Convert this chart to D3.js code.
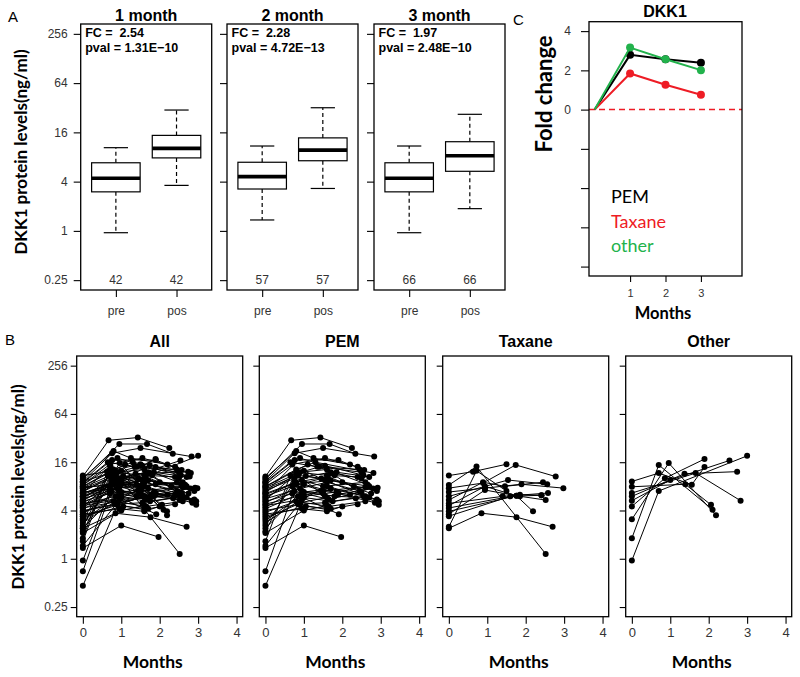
<!DOCTYPE html>
<html><head><meta charset="utf-8">
<script src="https://cdn.jsdelivr.net/npm/d3@7"></script>
<style>
body{margin:0;background:#fff;}
svg{display:block;}
text{font-family:"Liberation Sans",Arial,sans-serif;}
.cal{font-family:Lato,"Open Sans",sans-serif;}
</style></head>
<body>
<svg id="chart" width="800" height="677"></svg>
<script>
// ---------- DATA ----------
const boxPanels = ["1 month","2 month","3 month"];
const fcValues = ["2.54","2.28","1.97"];
const pvalValues = ["1.31E\u221210","4.72E\u221213","2.48E\u221210"];
const nCounts = [42,57,66];
const groupLabels = ["pre","pos"];
// [min, q1, median, q3, max]
const preStats = [[0.95,3.0,4.4,6.8,10.4],[1.36,3.25,4.6,6.9,10.9],[0.95,3.0,4.4,6.8,10.9]];
const posStats = [[3.6,7.8,10.2,14.7,30],[3.3,7.2,9.7,13.7,32],[1.87,5.35,8.3,12.3,26.6]];
const logTicks = [0.25,1,4,16,64,256];
const logTickLabels = ["0.25","1","4","16","64","256"];

// Panel B: patient trajectories [month, ng/ml]
const pemPatients = [
 [[0,10.6],[0.67,30],[1.43,32.5],[2.25,24]],
 [[0,9.8],[0.95,27],[1.67,27],[2.34,20.4]],
 [[0,9.2],[0.76,20.7],[1.5,24],[2.83,18.8]],
 [[0,8.8],[0.76,17.1],[1.9,17],[2.57,12.8]],
 [[0,8.4],[0.7,15],[1.55,18],[2.4,14]],
 [[0,8.0],[0.8,13],[1.3,16],[2.81,11.7]],
 [[0,7.7],[0.9,12],[1.6,13],[2.66,8.4]],
 [[0,7.4],[0.85,11],[1.45,10],[2.92,7.7]],
 [[0,7.1],[0.75,10],[1.7,12],[2.5,10]],
 [[0,6.8],[1.0,12.5],[1.55,9.5],[2.95,5.2]],
 [[0,6.5],[0.8,9],[1.8,11],[2.95,4.7]],
 [[0,6.3],[0.95,9.5],[1.5,8],[2.6,9]],
 [[0,6.0],[0.7,8],[1.62,10.5],[2.3,8]],
 [[0,5.8],[1.05,10.8],[2.0,9],[2.75,6.5]],
 [[0,5.6],[0.9,7.5],[1.6,9],[2.45,7]],
 [[0,5.4],[0.8,11.5],[1.55,6],[2.8,7.5]],
 [[0,5.2],[0.7,6.5],[1.7,7.5],[2.6,6]],
 [[0,5.0],[1.0,8.5],[1.9,6.5],[2.85,5]],
 [[0,4.8],[0.85,6],[1.45,7],[2.2,6.3]],
 [[0,4.6],[0.95,5.5],[1.6,8],[2.9,5.5]],
 [[0,4.4],[0.75,7],[1.65,5.5],[2.5,6.8]],
 [[0,4.2],[1.0,6.8],[1.8,6],[2.7,5.8]],
 [[0,4.0],[0.9,4.8],[1.55,5],[2.35,5.7]],
 [[0,3.8],[0.8,5.2],[1.65,4.5],[2.6,5.2]],
 [[0,3.6],[0.95,4.2],[1.6,3.9],[2.0,4.5]],
 [[0,3.4],[1.05,4.5],[1.7,4.2],[2.4,4.8]],
 [[0,3.2],[0.85,4.8],[1.6,4.1]],
 [[0,3.0],[0.9,6],[1.91,3.6]],
 [[0,2.8],[1.0,5.8],[1.75,5.2],[2.55,6]],
 [[0,2.6],[0.75,9],[1.5,7],[2.7,8]],
 [[0,2.4],[0.95,7],[1.5,6.5]],
 [[0,2.2],[0.8,12],[1.6,11],[2.4,10.5]],
 [[0,2.1],[1.0,4],[1.6,4.6]],
 [[0,1.65],[0.65,11],[1.4,14],[2.5,12]],
 [[0,1.36],[1.0,2.6],[1.97,1.87]],
 [[0,1.45],[0.9,5],[1.6,5.8]],
 [[0,0.70],[0.8,8.5],[1.7,9.5],[2.9,7]],
 [[0,0.46],[1.0,6.0],[1.85,6.8],[2.6,7.8]],
 [[0,10.2],[0.8,22],[1.25,18],[2.2,15]],
 [[0,9.0],[0.65,16],[1.35,14],[2.45,13]],
 [[0,7.9],[1.1,15],[1.85,12],[2.7,10.5]],
 [[0,6.6],[0.9,18],[1.55,14.5],[2.55,11]]
];
const taxanePatients = [
 [[0,10.9],[0.63,12.2],[1.50,15.1]],
 [[0,8.3],[0.72,14.1],[2.52,1.15]],
 [[0,7.6],[0.89,8.8],[1.74,14.8],[2.78,10.6]],
 [[0,6.8],[0.94,7.6],[1.89,8.5],[2.98,7.6]],
 [[0,6.0],[1.54,9.6],[2.56,8.5]],
 [[0,5.4],[0.89,9.0],[1.46,8.0],[2.45,9.0]],
 [[0,4.9],[1.40,6.0],[2.58,6.6]],
 [[0,4.6],[0.94,8.0],[1.76,6.1],[2.19,3.9]],
 [[0,4.3],[1.85,6.3],[2.41,6.2]],
 [[0,3.9],[1.76,6.1],[2.52,5.4]],
 [[0,3.6],[0.94,7.2],[1.85,6.0]],
 [[0,3.4],[1.60,6.0],[2.41,6.2]],
 [[0,2.5],[0.72,12.5],[1.50,7.0]],
 [[0,2.4],[0.85,3.7],[1.76,3.3],[2.70,2.5]]
];
const otherPatients = [
 [[0,0.95],[0.70,7.0],[3.0,19.2]],
 [[0,1.8],[0.70,14.8],[2.10,4.1]],
 [[0,3.1],[0.96,15.6],[2.19,3.5]],
 [[0,4.5],[0.86,10.1],[1.89,17.5]],
 [[0,5.3],[1.0,9.6],[2.54,16.8]],
 [[0,6.0],[1.37,11.5],[2.74,12.2]],
 [[0,6.6],[1.66,11.7],[2.83,5.3]],
 [[0,7.9],[1.39,8.5],[2.06,4.7]],
 [[0,9.2],[0.70,11.7],[1.56,8.4],[1.89,13.9]]
];
const bPanels = ["All","PEM","Taxane","Other"];
const monthTicks = [0,1,2,3,4];

// Panel C: fold change
const fcMonths = [0,1,2,3];
const pemFC = [0,2.79,2.57,2.39];
const taxaneFC = [0,1.84,1.27,0.76];
const otherFC = [0,3.16,2.57,2.01];
const fcSeries = [
  {name:"PEM", values:pemFC, color:"#000000"},
  {name:"Taxane", values:taxaneFC, color:"#ee1c25"},
  {name:"other", values:otherFC, color:"#22b24c"}
];
const fcTicks = [4,2,0,-2,-4,-6,-8];
const fcMonthTicks = [1,2,3];

// ---------- LAYOUT ----------
const svg = d3.select("#chart");
const logDomain = [Math.pow(2,-2.4), Math.pow(2,8.4)];
const tickFont = 12, tickColor = "#333";

function styleAxis(g){
  g.select(".domain").remove();
  g.selectAll(".tick line").attr("stroke","#000").attr("stroke-width",1.1);
  g.selectAll(".tick text").attr("fill",tickColor).style("font-size",tickFont+"px")
   .style("font-family",'"Liberation Sans",Arial,sans-serif');
}

// ---------- PANEL A ----------
const aTop = 24, aBot = 290, aW = 131, aLefts = [80.7,227,374];
boxPanels.forEach((title,i)=>{
  const left = aLefts[i];
  const x = d3.scaleLinear().domain([0.42,2.58]).range([left,left+aW]);
  const y = d3.scaleLog().base(2).domain(logDomain).range([aBot,aTop]);
  const g = svg.append("g");
  const ya = g.append("g").attr("transform",`translate(${left},0)`)
    .call(d3.axisLeft(y).tickValues(logTicks).tickSize(7).tickPadding(6)
      .tickFormat((d,k)=> i===0 ? logTickLabels[k] : ""));
  styleAxis(ya);
  const xa = g.append("g").attr("transform",`translate(0,${aBot})`)
    .call(d3.axisBottom(x).tickValues([1,2]).tickSize(7).tickPadding(9)
      .tickFormat((d,k)=>groupLabels[k]));
  styleAxis(xa);

  [preStats[i], posStats[i]].forEach((s,k)=>{
    const c = k+1;
    const [mn,q1,md,q3,mx] = s;
    g.append("line").attr("x1",x(c)).attr("x2",x(c)).attr("y1",y(q3)).attr("y2",y(mx))
      .attr("stroke","#000").attr("stroke-width",1.2).attr("stroke-dasharray","4,3");
    g.append("line").attr("x1",x(c)).attr("x2",x(c)).attr("y1",y(q1)).attr("y2",y(mn))
      .attr("stroke","#000").attr("stroke-width",1.2).attr("stroke-dasharray","4,3");
    [mn,mx].forEach(v=>g.append("line").attr("x1",x(c-0.2)).attr("x2",x(c+0.2))
      .attr("y1",y(v)).attr("y2",y(v)).attr("stroke","#000").attr("stroke-width",1.2));
    g.append("rect").attr("x",x(c-0.4)).attr("width",x(c+0.4)-x(c-0.4))
      .attr("y",y(q3)).attr("height",y(q1)-y(q3))
      .attr("fill","#fff").attr("stroke","#000").attr("stroke-width",1.2);
    g.append("line").attr("x1",x(c-0.4)).attr("x2",x(c+0.4)).attr("y1",y(md)).attr("y2",y(md))
      .attr("stroke","#000").attr("stroke-width",3.6);
    g.append("text").attr("x",x(c)).attr("y",y(0.25)).attr("dy","0.32em")
      .attr("text-anchor","middle").attr("fill",tickColor).style("font-size","12px")
      .text(nCounts[i]);
  });
  g.append("rect").attr("x",left).attr("y",aTop).attr("width",aW).attr("height",aBot-aTop)
    .attr("fill","none").attr("stroke","#000").attr("stroke-width",1.3);
  g.append("text").attr("x",left+aW/2).attr("y",21).attr("text-anchor","middle")
    .style("font-size","16px").style("font-weight","bold").text(title);
  g.append("text").attr("x",left+4.5).attr("y",37).style("font-size","12.5px")
    .style("font-weight","bold").style("white-space","pre").text("FC =  "+fcValues[i]);
  g.append("text").attr("x",left+4.5).attr("y",52).style("font-size","12.5px")
    .style("font-weight","bold").style("white-space","pre").text("pval = "+pvalValues[i]);
});
svg.append("text").attr("class","cal").attr("transform","translate(20,152) rotate(-90)")
  .attr("text-anchor","middle").attr("dominant-baseline","central")
  .style("font-size","17px").style("font-weight","bold").text("DKK1 protein levels(ng/ml)");
svg.append("text").attr("x",8).attr("y",22).style("font-size","15px").text("A");

// ---------- PANEL B ----------
const bTop = 356, bBot = 616.7, bW = 166, bLefts = [76.7,259.3,442.7,625.7];
const bData = [pemPatients.concat(taxanePatients, otherPatients), pemPatients, taxanePatients, otherPatients];
bPanels.forEach((title,i)=>{
  const left = bLefts[i];
  const x = d3.scaleLinear().domain([-0.16,4.16]).range([left,left+bW]);
  const y = d3.scaleLog().base(2).domain(logDomain).range([bBot,bTop]);
  const g = svg.append("g");
  const ya = g.append("g").attr("transform",`translate(${left},0)`)
    .call(d3.axisLeft(y).tickValues(logTicks).tickSize(6).tickPadding(3)
      .tickFormat((d,k)=> i===0 ? logTickLabels[k] : ""));
  styleAxis(ya);
  const xa = g.append("g").attr("transform",`translate(0,${bBot})`)
    .call(d3.axisBottom(x).tickValues(monthTicks).tickSize(7).tickPadding(4).tickFormat(d3.format("d")));
  styleAxis(xa);
  xa.selectAll(".tick text").style("font-size","13px");
  const line = d3.line().x(d=>x(d[0])).y(d=>y(d[1]));
  const pg = g.append("g");
  bData[i].forEach(p=>{
    pg.append("path").attr("d",line(p)).attr("fill","none").attr("stroke","#000").attr("stroke-width",1);
  });
  bData[i].forEach(p=>{
    pg.selectAll(null).data(p).enter().append("circle")
      .attr("cx",d=>x(d[0])).attr("cy",d=>y(d[1])).attr("r",3).attr("fill","#000");
  });
  g.append("rect").attr("x",left).attr("y",bTop).attr("width",bW).attr("height",bBot-bTop)
    .attr("fill","none").attr("stroke","#000").attr("stroke-width",1.3);
  g.append("text").attr("x",left+bW/2).attr("y",347).attr("text-anchor","middle")
    .style("font-size","16px").style("font-weight","bold").text(title);
  g.append("text").attr("class","cal").attr("x",left+bW/2-7).attr("y",668).attr("text-anchor","middle")
    .style("font-size","17.5px").style("font-weight","bold").text("Months");
});
svg.append("text").attr("class","cal").attr("transform","translate(17,487) rotate(-90)")
  .attr("text-anchor","middle").attr("dominant-baseline","central")
  .style("font-size","17px").style("font-weight","bold").text("DKK1 protein levels(ng/ml)");
svg.append("text").attr("x",5).attr("y",345).style("font-size","15px").text("B");

// ---------- PANEL C ----------
const cLeft = 589, cRight = 742, cTop = 21.7, cBot = 276;
const cx = d3.scaleLinear().domain([-0.16,4.16]).range([cLeft,cRight]);
const cy = d3.scaleLinear().domain([-8.48,4.48]).range([cBot,cTop]);
const cg = svg.append("g");
const cya = cg.append("g").attr("transform",`translate(${cLeft},0)`)
  .call(d3.axisLeft(cy).tickValues(fcTicks).tickSize(8).tickPadding(10)
    .tickFormat(d=> d>=0 ? d3.format("d")(d) : ""));
styleAxis(cya);
const cxa = cg.append("g").attr("transform",`translate(0,${cBot})`)
  .call(d3.axisBottom(cx).tickValues(fcMonthTicks).tickSize(6).tickPadding(7).tickFormat(d3.format("d")));
styleAxis(cxa);
cxa.selectAll(".tick text").style("font-size","11px");
cg.append("line").attr("x1",cLeft).attr("x2",cRight).attr("y1",cy(0)).attr("y2",cy(0))
  .attr("stroke","#ee1c25").attr("stroke-width",1.5).attr("stroke-dasharray","6,4");
const cline = d3.line().x((d,k)=>cx(fcMonths[k])).y(d=>cy(d));
fcSeries.forEach(s=>{
  cg.append("path").attr("d",cline(s.values)).attr("fill","none")
    .attr("stroke",s.color).attr("stroke-width",2);
  cg.selectAll(null).data(s.values.slice(1)).enter().append("circle")
    .attr("cx",(d,k)=>cx(fcMonths[k+1])).attr("cy",d=>cy(d)).attr("r",4).attr("fill",s.color);
});
cg.append("rect").attr("x",cLeft).attr("y",cTop).attr("width",cRight-cLeft).attr("height",cBot-cTop)
  .attr("fill","none").attr("stroke","#000").attr("stroke-width",1.3);
cg.append("text").attr("x",665).attr("y",17).attr("text-anchor","middle")
  .style("font-size","16px").style("font-weight","bold").text("DKK1");
cg.append("text").attr("class","cal").attr("x",663).attr("y",319).attr("text-anchor","middle")
  .style("font-size","16.5px").style("font-weight","bold").text("Months");
cg.append("text").attr("class","cal").attr("transform","translate(543,94) rotate(-90)")
  .attr("text-anchor","middle").attr("dominant-baseline","central")
  .style("font-size","22px").style("font-weight","bold").text("Fold change");
const legY = [203,228,252];
fcSeries.forEach((s,k)=>{
  cg.append("text").attr("class","cal").attr("x",611).attr("y",legY[k])
    .attr("fill",s.color).style("font-size","18px").text(s.name);
});
svg.append("text").attr("x",513).attr("y",25).style("font-size","15px").text("C");
</script>
</body></html>
